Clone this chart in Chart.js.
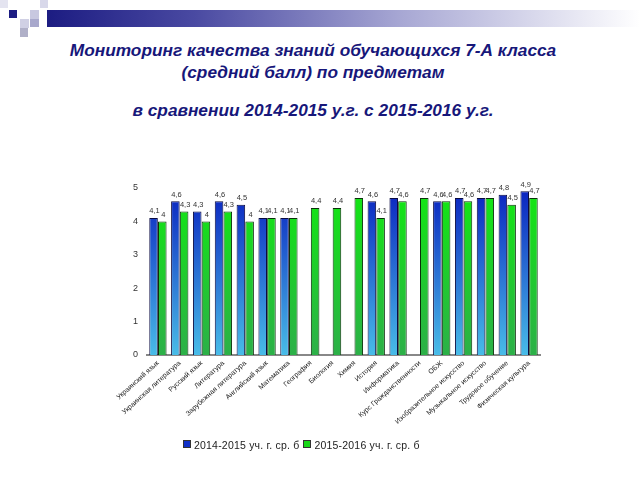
<!DOCTYPE html>
<html>
<head>
<meta charset="utf-8">
<script src="https://cdn.jsdelivr.net/npm/chart.js@4/dist/chart.umd.min.js"></script>
<style>
  html, body { margin: 0; padding: 0; background: #fff; }
  #wrap { position: relative; width: 640px; height: 480px; overflow: hidden; }
  canvas { position: absolute; left: 0; top: 0; }
  .sq { position: absolute; }
  #bar { position: absolute; left: 47px; top: 10px; width: 593px; height: 17px;
         background: linear-gradient(to right, #1c1c82 0%, #4a4aa2 25%, #a8a8d4 60%, #ffffff 100%); }
  #title { position: absolute; left: 0; top: 39px; width: 626px; text-align: center;
           font-family: "Liberation Sans", Arial, sans-serif; font-weight: bold; font-style: italic;
           font-size: 17.3px; color: #17177a; line-height: 22px; }
  #title .l3 { display: block; margin-top: 16px; }
  #legend { position: absolute; left: 183px; top: 439px; font-family: "Liberation Sans", Arial, sans-serif;
            font-size: 10.5px; letter-spacing: 0.2px; color: #222; white-space: nowrap; }
  #legend .it { display: inline-block; margin-right: 4px; }
  #legend .bx { display: inline-block; width: 6px; height: 6px; border: 1px solid #333; margin-right: 3px; vertical-align: 1px; }
</style>
</head>
<body>
<div id="wrap">
  <div id="bar"></div>
  <div class="sq" style="left:9px;top:10px;width:8px;height:8px;background:#1c1c82"></div>
  <div class="sq" style="left:30px;top:10px;width:9px;height:9px;background:#c8c8e0"></div>
  <div class="sq" style="left:40px;top:0px;width:8px;height:8px;background:#d8d8ea"></div>
  <div class="sq" style="left:20px;top:19px;width:9px;height:9px;background:#d0d0e4"></div>
  <div class="sq" style="left:30px;top:19px;width:9px;height:8px;background:#a8a8cc"></div>
  <div class="sq" style="left:20px;top:28px;width:8px;height:9px;background:#b0b0c8"></div>
  <div class="sq" style="left:0px;top:0px;width:8px;height:8px;background:#e4e4f0"></div>
  <div id="title">Мониторинг качества знаний обучающихся 7-А класса<br>(средний балл) по предметам<span class="l3">в сравнении 2014-2015 у.г. с 2015-2016 у.г.</span></div>
  <canvas id="c" width="640" height="480"></canvas>
  <div id="legend"></div>
</div>
<script>
const categories = [
  "Украинский язык", "Украинская литература", "Русский язык", "Литература",
  "Зарубежная литература", "Английский язык", "Математика", "География",
  "Биология", "Химия", "История", "Информатика", "Курс Гражданственности",
  "ОБЖ", "Изобразительное искусство", "Музыкальное искусство",
  "Трудовое обучение", "Физическая культура"
];
const series2015 = [4.1, 4.6, 4.3, 4.6, 4.5, 4.1, 4.1, null, null, null, 4.6, 4.7, null, 4.6, 4.7, 4.7, 4.8, 4.9];
const series2016 = [4.0, 4.3, 4.0, 4.3, 4.0, 4.1, 4.1, 4.4, 4.4, 4.7, 4.1, 4.6, 4.7, 4.6, 4.6, 4.7, 4.5, 4.7];
const seriesNames = ["2014-2015 уч. г. ср. б", "2015-2016 уч. г. ср. б"];
const legendColors = ['#1030c8', '#18d818'];
const yTicks = [0, 1, 2, 3, 4, 5];

function grad(ctx, top, bottom) {
  const ca = ctx.chart.chartArea;
  if (!ca) return top;
  const g = ctx.chart.ctx.createLinearGradient(0, ca.top, 0, ca.bottom);
  g.addColorStop(0, top);
  g.addColorStop(1, bottom);
  return g;
}

const valueLabels = {
  id: 'valueLabels',
  afterDatasetsDraw(chart) {
    const ctx = chart.ctx;
    ctx.save();
    ctx.font = '7.5px "Liberation Sans", Arial, sans-serif';
    ctx.fillStyle = '#333';
    ctx.textAlign = 'center';
    ctx.textBaseline = 'bottom';
    chart.data.datasets.forEach((ds, di) => {
      const meta = chart.getDatasetMeta(di);
      meta.data.forEach((el, i) => {
        const v = ds.data[i];
        if (v === null || v === undefined) return;
        const txt = String(v).replace('.', ',');
        ctx.fillText(txt, el.x + 1, el.y - 3);
      });
    });
    ctx.restore();
  }
};

document.getElementById('legend').innerHTML = seriesNames.map((n, i) =>
  '<span class="it"><span class="bx" style="background:' + legendColors[i] + '"></span>' + n + '</span>').join('');

new Chart(document.getElementById('c'), {
  type: 'bar',
  data: {
    labels: categories,
    datasets: [
      {
        label: seriesNames[0],
        data: series2015,
        backgroundColor: c => grad(c, '#0a22c0', '#48bce8'),
        borderColor: '#0a0a40',
        borderWidth: 1
      },
      {
        label: seriesNames[1],
        data: series2016,
        backgroundColor: c => grad(c, '#12e812', '#2cb048'),
        borderColor: '#0a300a',
        borderWidth: 1
      }
    ]
  },
  options: {
    responsive: false,
    animation: false,
    layout: { padding: { left: 126, right: 100, top: 188, bottom: 50 } },
    datasets: { bar: { categoryPercentage: 0.8, barPercentage: 0.98 } },
    scales: {
      x: {
        grid: { display: false, drawTicks: false },
        border: { display: true, color: '#888', width: 2 },
        ticks: {
          maxRotation: 42, minRotation: 42, autoSkip: false,
          font: { size: 7, family: '"Liberation Sans", Arial, sans-serif' },
          color: '#222', padding: 4
        },
        afterFit(s) { s.height = 75; }
      },
      y: {
        min: 0, max: 5,
        afterBuildTicks(s) { s.ticks = yTicks.map(v => ({ value: v })); },
        grid: { display: false },
        border: { display: false },
        ticks: {
          font: { size: 9, family: '"Liberation Sans", Arial, sans-serif' },
          color: '#333', padding: 1
        },
        afterFit(s) { s.width = 21; }
      }
    },
    plugins: {
      legend: { display: false },
      tooltip: { enabled: false }
    }
  },
  plugins: [valueLabels]
});
</script>
</body>
</html>
